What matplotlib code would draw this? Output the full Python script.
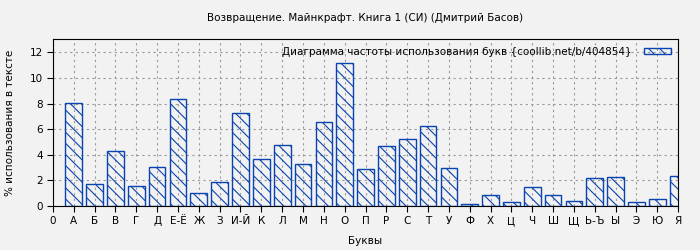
import matplotlib.pyplot as plt
import matplotlib as mpl

# Частота букв, %
letters = ["А", "Б", "В", "Г", "Д", "Е-Ё", "Ж", "З", "И-Й", "К", "Л", "М", "Н", "О",
           "П", "Р", "С", "Т", "У", "Ф", "Х", "Ц", "Ч", "Ш", "Щ", "Ь-Ъ", "Ы", "Э", "Ю", "Я"]
values = [8.02, 1.69, 4.27, 1.54, 3.02, 8.33, 0.99, 1.85, 7.24, 3.65, 4.74, 3.26, 6.54, 11.15,
          2.86, 4.66, 5.23, 6.22, 2.97, 0.13, 0.86, 0.29, 1.48, 0.86, 0.36, 2.19, 2.27, 0.29, 0.52, 2.34]
tick_labels = ["0"] + letters

title = "Возвращение. Майнкрафт. Книга 1 (СИ) (Дмитрий Басов)"
legend_label = "Диаграмма частоты использования букв {coollib.net/b/404854}"

bg = "#f2f2f2"
blue = "#0a44b0"
fs = 7.5

mpl.rcParams["font.family"] = "DejaVu Sans"
mpl.rcParams["hatch.linewidth"] = 0.8
mpl.rcParams["hatch.color"] = blue

fig = plt.figure(figsize=(7, 2.5), dpi=100, facecolor=bg)
ax = fig.add_axes([0.0757, 0.176, 0.8929, 0.666], facecolor=bg)

positions = list(range(1, len(letters) + 1))
ax.bar(positions, values, width=0.8, facecolor="none", edgecolor=blue,
       linewidth=1.0, hatch="\\\\\\", label=legend_label, zorder=3)

ax.set_xlim(0, 30)
ax.set_ylim(0, 13)
ax.set_xticks(range(0, 31))
ax.set_xticklabels(tick_labels, fontsize=fs)
ax.set_yticks(range(0, 13, 2))
ax.tick_params(axis="y", labelsize=fs, length=4)
ax.tick_params(axis="x", length=4)
ax.grid(True, linestyle=(0, (2, 3)), color="#999999", linewidth=0.8, zorder=0)

ax.set_xlabel("Буквы", fontsize=fs, labelpad=7)
ax.set_ylabel("% использования в тексте", fontsize=fs)
ax.yaxis.set_label_coords(-0.061, 0.5)
fig.text(0.522, 0.93, title, fontsize=fs, ha="center", va="center")

ax.legend(loc="upper right", frameon=False, fontsize=fs, markerfirst=False,
          handlelength=2.6, handleheight=0.6, borderaxespad=0.3, handletextpad=1.2)

fig.savefig("out.png", dpi=100, facecolor=bg)
